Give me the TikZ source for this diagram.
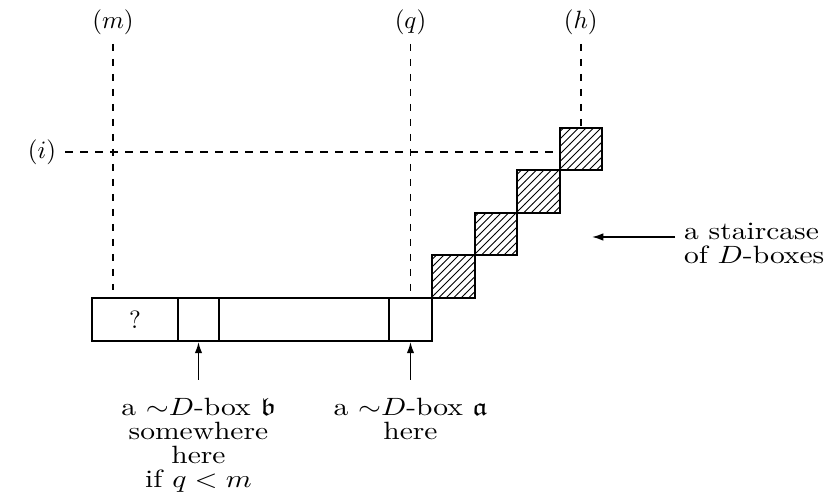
\documentclass[tikz,border=0pt]{standalone}
\usepackage{amssymb}
\usetikzlibrary{patterns,positioning,arrows.meta}

\begin{document}
\begin{tikzpicture}[x=0.4pt, y=0.4pt, thick,
	cell/.style={draw, minimum height=17.2pt, inner sep=0pt},
	dbox/.style={draw, pattern=north east lines, minimum size=17pt, inner sep=0pt},
	guide/.style={semithick, dashed},
	note/.style={align=center, font=\fontsize{10}{9.6}\selectfont, inner sep=1pt, xscale=1.18, transform shape},
	arr/.style={semithick, -{Latex[length=4.5pt, width=3pt]}}]
	\useasboundingbox (0,0) rectangle (826,504);

	% the long row of boxes
		\node[cell, minimum width=34.4pt] (qm) at (135,184.5) {?};
		\node[cell, minimum width=16.4pt] (b) at (198.5,184.5) {};
		\node[cell, minimum width=68pt] (mid) at (304,184.5) {};
		\node[cell, minimum width=17.2pt] (a) at (410.5,184.5) {};

	% the staircase of D-boxes
		\foreach \k in {0,...,3}
			\node[dbox] (s\k) at (453.25+42.5*\k, 227.25+42.5*\k) {};

	% column and row labels with their guide lines
		\node (lm) at (113,482) {$(m)$};
		\node (lq) at (410.5,482) {$(q)$};
		\node (lh) at (580.75,482) {$(h)$};
		\node (li) at (42,352) {$(i)$};
		\coordinate (mfoot) at (113,214);
		\draw[guide] (lm.south) -- (mfoot);
		\draw[guide] (lq.south) -- (a.north);
		\draw[guide] (lh.south) -- (s3.north);
		\draw[guide] (li.east) -- (li.east -| s3.west);

	% the notes under the row
		\coordinate (btail) at (198.5,124);
		\draw[arr] (btail) -- (b.south);
		\node[note, below=6pt of btail] (btext) {a ${\sim}D$-box $\mathfrak{b}$\\ somewhere\\ here\\ if $q<m$};
		\coordinate (atail) at (410.5,124);
		\draw[arr] (atail) -- (a.south);
		\node[note, below=6pt of atail] (atext) {a ${\sim}D$-box $\mathfrak{a}$\\ here};

	% the note on the right
		\coordinate (stail) at (675,267);
		\coordinate (shead) at (592,267);
		\draw[arr] (stail) -- (shead);
		\node[note, align=left, anchor=north west] (stext) at (680,284) {a staircase\\ of $D$-boxes};
\end{tikzpicture}
\end{document}
